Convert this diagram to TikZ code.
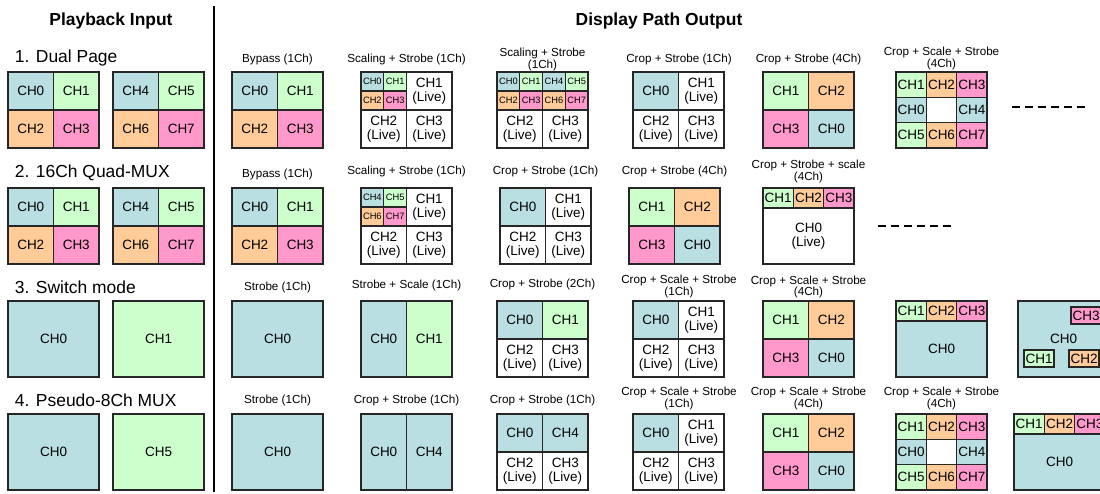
\documentclass[tikz,border=0pt]{standalone}
\usepackage{fontspec}
\setmainfont{Liberation Sans}
\usepackage{xcolor}
\usepackage{tikz}
\usetikzlibrary{positioning}

\definecolor{chcyan}{HTML}{B9DFE2}
\definecolor{chgreen}{HTML}{CCFFCC}
\definecolor{chorange}{HTML}{FFCC99}
\definecolor{chpink}{HTML}{FF99CC}

\begin{document}
\begin{tikzpicture}[
  x=0.025cm, y=-0.025cm,
  chcell/.style={draw=black!85, line width=0.8pt, fill=white, inner sep=0pt, outer sep=0pt, anchor=north west, align=center, font=\fontsize{9.6}{10}\selectfont},
  quad/.style={chcell, minimum width=1.1375cm, minimum height=0.95cm},
  full/.style={chcell, minimum width=2.275cm, minimum height=1.9cm},
  tall/.style={chcell, minimum width=1.1375cm, minimum height=1.9cm},
  mini/.style={chcell, minimum width=0.56875cm, minimum height=0.475cm, font=\fontsize{6.6}{7}\selectfont},
  ninth/.style={chcell, minimum width=0.7583cm, minimum height=0.6333cm},
  strip/.style={chcell, minimum width=0.7583cm, minimum height=0.5cm},
  mainbox/.style={chcell, minimum width=2.275cm, minimum height=1.4cm},
  inset/.style={chcell, minimum width=0.75cm, minimum height=0.425cm},
  caption/.style={font=\fontsize{8.3}{8}\selectfont, align=center},
  rowtitle/.style={font=\fontsize{12.4}{14}\selectfont, anchor=west},
  header/.style={font=\bfseries\fontsize{12.4}{14}\selectfont},
  gap/.style={dash pattern=on 6pt off 3.2pt, line width=1pt}
]
\useasboundingbox (0,0) rectangle (1100,494);
\clip (0,0) rectangle (1100,494);

% Headers
\node[header] (inhead) at (111,21) {Playback Input};
\node[header] (outhead) at (659,21) {Display Path Output};
\coordinate (divtop) at (214,6);
\coordinate (divbot) at (214,492);
\draw[line width=0.9pt] (divtop) -- (divbot);

% Row titles
\node[rowtitle] (t1) at (10,58) {1. Dual Page};
\node[rowtitle] (t2) at (10,173) {2. 16Ch Quad-MUX};
\node[rowtitle] (t3) at (10,287) {3. Switch mode};
\node[rowtitle] (t4) at (10,400) {4. Pseudo-8Ch MUX};

% Row 1: Dual Page
\node[quad, fill=chcyan] (p1a0) at (8,72) {CH0};
\node[quad, fill=chgreen] (p1a1) at (53.5,72) {CH1};
\node[quad, fill=chorange] (p1a2) at (8,110) {CH2};
\node[quad, fill=chpink] (p1a3) at (53.5,110) {CH3};
\node[quad, fill=chcyan] (p1b0) at (113,72) {CH4};
\node[quad, fill=chgreen] (p1b1) at (158.5,72) {CH5};
\node[quad, fill=chorange] (p1b2) at (113,110) {CH6};
\node[quad, fill=chpink] (p1b3) at (158.5,110) {CH7};

\node[caption] (o1acap) at (277.5,59) {Bypass (1Ch)};
\node[quad, fill=chcyan] (o1a0) at (232,72) {CH0};
\node[quad, fill=chgreen] (o1a1) at (277.5,72) {CH1};
\node[quad, fill=chorange] (o1a2) at (232,110) {CH2};
\node[quad, fill=chpink] (o1a3) at (277.5,110) {CH3};

\node[caption] (o1bcap) at (406.5,59) {Scaling + Strobe (1Ch)};
\node[mini, fill=chcyan] (o1bm0) at (361,72) {CH0};
\node[mini, fill=chgreen] (o1bm1) at (383.75,72) {CH1};
\node[mini, fill=chorange] (o1bm2) at (361,91) {CH2};
\node[mini, fill=chpink] (o1bm3) at (383.75,91) {CH3};
\node[quad] (o1b1) at (406.5,72) {CH1\\(Live)};
\node[quad] (o1b2) at (361,110) {CH2\\(Live)};
\node[quad] (o1b3) at (406.5,110) {CH3\\(Live)};

\node[caption] (o1ccap) at (542.5,59.5) {Scaling + Strobe\\(1Ch)};
\node[mini, fill=chcyan] (o1cm0) at (497,72) {CH0};
\node[mini, fill=chgreen] (o1cm1) at (519.75,72) {CH1};
\node[mini, fill=chcyan] (o1cm4) at (542.5,72) {CH4};
\node[mini, fill=chgreen] (o1cm5) at (565.25,72) {CH5};
\node[mini, fill=chorange] (o1cm2) at (497,91) {CH2};
\node[mini, fill=chpink] (o1cm3) at (519.75,91) {CH3};
\node[mini, fill=chorange] (o1cm6) at (542.5,91) {CH6};
\node[mini, fill=chpink] (o1cm7) at (565.25,91) {CH7};
\node[quad] (o1c2) at (497,110) {CH2\\(Live)};
\node[quad] (o1c3) at (542.5,110) {CH3\\(Live)};

\node[caption] (o1dcap) at (679,59) {Crop + Strobe (1Ch)};
\node[quad, fill=chcyan] (o1d0) at (633,72) {CH0};
\node[quad] (o1d1) at (678.5,72) {CH1\\(Live)};
\node[quad] (o1d2) at (633,110) {CH2\\(Live)};
\node[quad] (o1d3) at (678.5,110) {CH3\\(Live)};

\node[caption] (o1ecap) at (808.5,59) {Crop + Strobe (4Ch)};
\node[quad, fill=chgreen] (o1e1) at (763,72) {CH1};
\node[quad, fill=chorange] (o1e2) at (808.5,72) {CH2};
\node[quad, fill=chpink] (o1e3) at (763,110) {CH3};
\node[quad, fill=chcyan] (o1e0) at (808.5,110) {CH0};

\node[caption] (o1fcap) at (941.5,58.5) {Crop + Scale + Strobe\\(4Ch)};
\node[ninth, fill=chgreen] (o1f1) at (896,72) {CH1};
\node[ninth, fill=chorange] (o1f2) at (926.33,72) {CH2};
\node[ninth, fill=chpink] (o1f3) at (956.67,72) {CH3};
\node[ninth, fill=chcyan] (o1f0) at (896,97.33) {CH0};
\node[ninth] (o1fx) at (926.33,97.33) {};
\node[ninth, fill=chcyan] (o1f4) at (956.67,97.33) {CH4};
\node[ninth, fill=chgreen] (o1f5) at (896,122.67) {CH5};
\node[ninth, fill=chorange] (o1f6) at (926.33,122.67) {CH6};
\node[ninth, fill=chpink] (o1f7) at (956.67,122.67) {CH7};

\coordinate (g1a) at (1012,107);
\coordinate (g1b) at (1085,107);
\draw[gap] (g1a) -- (g1b);

% Row 2: 16Ch Quad-MUX
\node[quad, fill=chcyan] (p2a0) at (8,188) {CH0};
\node[quad, fill=chgreen] (p2a1) at (53.5,188) {CH1};
\node[quad, fill=chorange] (p2a2) at (8,226) {CH2};
\node[quad, fill=chpink] (p2a3) at (53.5,226) {CH3};
\node[quad, fill=chcyan] (p2b0) at (113,188) {CH4};
\node[quad, fill=chgreen] (p2b1) at (158.5,188) {CH5};
\node[quad, fill=chorange] (p2b2) at (113,226) {CH6};
\node[quad, fill=chpink] (p2b3) at (158.5,226) {CH7};

\node[caption] (o2acap) at (277.5,174) {Bypass (1Ch)};
\node[quad, fill=chcyan] (o2a0) at (232,188) {CH0};
\node[quad, fill=chgreen] (o2a1) at (277.5,188) {CH1};
\node[quad, fill=chorange] (o2a2) at (232,226) {CH2};
\node[quad, fill=chpink] (o2a3) at (277.5,226) {CH3};

\node[caption] (o2bcap) at (406.5,171) {Scaling + Strobe (1Ch)};
\node[mini, fill=chcyan] (o2bm4) at (361,188) {CH4};
\node[mini, fill=chgreen] (o2bm5) at (383.75,188) {CH5};
\node[mini, fill=chorange] (o2bm6) at (361,207) {CH6};
\node[mini, fill=chpink] (o2bm7) at (383.75,207) {CH7};
\node[quad] (o2b1) at (406.5,188) {CH1\\(Live)};
\node[quad] (o2b2) at (361,226) {CH2\\(Live)};
\node[quad] (o2b3) at (406.5,226) {CH3\\(Live)};

\node[caption] (o2ccap) at (545.5,171) {Crop + Strobe (1Ch)};
\node[quad, fill=chcyan] (o2c0) at (500,188) {CH0};
\node[quad] (o2c1) at (545.5,188) {CH1\\(Live)};
\node[quad] (o2c2) at (500,226) {CH2\\(Live)};
\node[quad] (o2c3) at (545.5,226) {CH3\\(Live)};

\node[caption] (o2dcap) at (674.5,171) {Crop + Strobe (4Ch)};
\node[quad, fill=chgreen] (o2d1) at (629,188) {CH1};
\node[quad, fill=chorange] (o2d2) at (674.5,188) {CH2};
\node[quad, fill=chpink] (o2d3) at (629,226) {CH3};
\node[quad, fill=chcyan] (o2d0) at (674.5,226) {CH0};

\node[caption] (o2ecap) at (808.5,171.5) {Crop + Strobe + scale\\(4Ch)};
\node[strip, fill=chgreen] (o2e1) at (763,188) {CH1};
\node[strip, fill=chorange] (o2e2) at (793.33,188) {CH2};
\node[strip, fill=chpink] (o2e3) at (823.67,188) {CH3};
\node[mainbox] (o2e0) at (763,208) {CH0\\(Live)};

\coordinate (g2a) at (878,226);
\coordinate (g2b) at (952,226);
\draw[gap] (g2a) -- (g2b);

% Row 3: Switch mode
\node[full, fill=chcyan] (p3a) at (8,301) {CH0};
\node[full, fill=chgreen] (p3b) at (113,301) {CH1};

\node[caption] (o3acap) at (277.5,287) {Strobe (1Ch)};
\node[full, fill=chcyan] (o3a) at (232,301) {CH0};

\node[caption] (o3bcap) at (406.5,285) {Strobe + Scale (1Ch)};
\node[tall, fill=chcyan] (o3b0) at (361,301) {CH0};
\node[tall, fill=chgreen] (o3b1) at (406.5,301) {CH1};

\node[caption] (o3ccap) at (542.5,284) {Crop + Strobe (2Ch)};
\node[quad, fill=chcyan] (o3c0) at (497,301) {CH0};
\node[quad, fill=chgreen] (o3c1) at (542.5,301) {CH1};
\node[quad] (o3c2) at (497,339) {CH2\\(Live)};
\node[quad] (o3c3) at (542.5,339) {CH3\\(Live)};

\node[caption] (o3dcap) at (679,286.5) {Crop + Scale + Strobe\\(1Ch)};
\node[quad, fill=chcyan] (o3d0) at (633,301) {CH0};
\node[quad] (o3d1) at (678.5,301) {CH1\\(Live)};
\node[quad] (o3d2) at (633,339) {CH2\\(Live)};
\node[quad] (o3d3) at (678.5,339) {CH3\\(Live)};

\node[caption] (o3ecap) at (808.5,287) {Crop + Scale + Strobe\\(4Ch)};
\node[quad, fill=chgreen] (o3e1) at (763,301) {CH1};
\node[quad, fill=chorange] (o3e2) at (808.5,301) {CH2};
\node[quad, fill=chpink] (o3e3) at (763,339) {CH3};
\node[quad, fill=chcyan] (o3e0) at (808.5,339) {CH0};

\node[strip, fill=chgreen] (o3f1) at (896,301) {CH1};
\node[strip, fill=chorange] (o3f2) at (926.33,301) {CH2};
\node[strip, fill=chpink] (o3f3) at (956.67,301) {CH3};
\node[mainbox, fill=chcyan] (o3f0) at (896,321) {CH0};

\node[full, fill=chcyan] (o3g0) at (1018,301) {CH0};
\node[inset, fill=chpink] (o3g3) at (1071,307) {CH3};
\node[inset, fill=chgreen] (o3g1) at (1024,350) {CH1};
\node[inset, fill=chorange] (o3g2) at (1069,350) {CH2};

% Row 4: Pseudo-8Ch MUX
\node[full, fill=chcyan] (p4a) at (8,414) {CH0};
\node[full, fill=chgreen] (p4b) at (113,414) {CH5};

\node[caption] (o4acap) at (277.5,400) {Strobe (1Ch)};
\node[full, fill=chcyan] (o4a) at (232,414) {CH0};

\node[caption] (o4bcap) at (406.5,400) {Crop + Strobe (1Ch)};
\node[tall, fill=chcyan] (o4b0) at (361,414) {CH0};
\node[tall, fill=chcyan] (o4b4) at (406.5,414) {CH4};

\node[caption] (o4ccap) at (542.5,400) {Crop + Strobe (1Ch)};
\node[quad, fill=chcyan] (o4c0) at (497,414) {CH0};
\node[quad, fill=chcyan] (o4c4) at (542.5,414) {CH4};
\node[quad] (o4c2) at (497,452) {CH2\\(Live)};
\node[quad] (o4c3) at (542.5,452) {CH3\\(Live)};

\node[caption] (o4dcap) at (679,398.5) {Crop + Scale + Strobe\\(1Ch)};
\node[quad, fill=chcyan] (o4d0) at (633,414) {CH0};
\node[quad] (o4d1) at (678.5,414) {CH1\\(Live)};
\node[quad] (o4d2) at (633,452) {CH2\\(Live)};
\node[quad] (o4d3) at (678.5,452) {CH3\\(Live)};

\node[caption] (o4ecap) at (808.5,398.5) {Crop + Scale + Strobe\\(4Ch)};
\node[quad, fill=chgreen] (o4e1) at (763,414) {CH1};
\node[quad, fill=chorange] (o4e2) at (808.5,414) {CH2};
\node[quad, fill=chpink] (o4e3) at (763,452) {CH3};
\node[quad, fill=chcyan] (o4e0) at (808.5,452) {CH0};

\node[caption] (o4fcap) at (941.5,398.5) {Crop + Scale + Strobe\\(4Ch)};
\node[ninth, fill=chgreen] (o4f1) at (896,414) {CH1};
\node[ninth, fill=chorange] (o4f2) at (926.33,414) {CH2};
\node[ninth, fill=chpink] (o4f3) at (956.67,414) {CH3};
\node[ninth, fill=chcyan] (o4f0) at (896,439.33) {CH0};
\node[ninth] (o4fx) at (926.33,439.33) {};
\node[ninth, fill=chcyan] (o4f4) at (956.67,439.33) {CH4};
\node[ninth, fill=chgreen] (o4f5) at (896,464.67) {CH5};
\node[ninth, fill=chorange] (o4f6) at (926.33,464.67) {CH6};
\node[ninth, fill=chpink] (o4f7) at (956.67,464.67) {CH7};

\node[strip, fill=chgreen] (o4g1) at (1014,414) {CH1};
\node[strip, fill=chorange] (o4g2) at (1044.33,414) {CH2};
\node[strip, fill=chpink] (o4g3) at (1074.67,414) {CH3};
\node[mainbox, fill=chcyan] (o4g0) at (1014,434) {CH0};

\end{tikzpicture}
\end{document}
